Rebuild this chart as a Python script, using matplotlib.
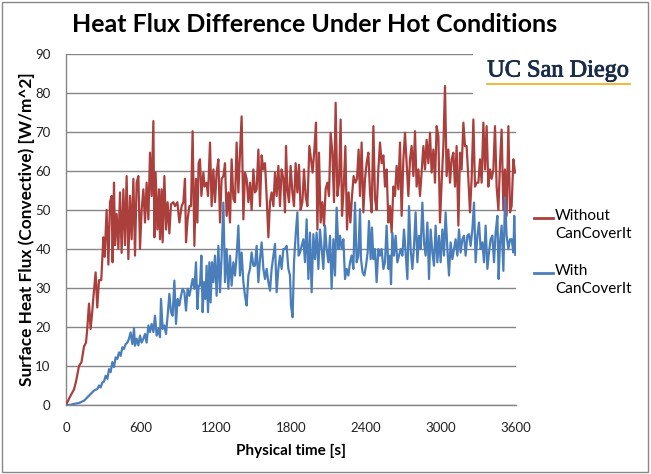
#!/usr/bin/env python3
"""
Heat flux difference under hot conditions - recreation
"""
import matplotlib
matplotlib.use("Agg")
import matplotlib.pyplot as plt
import matplotlib.patheffects as pe
from matplotlib.patches import Rectangle
from matplotlib.lines import Line2D

# (time [s], heat flux [W/m^2])
without_pts = [
    (0, 0), (30, 2), (64, 4), (80, 6), (104, 10), (124, 11), (144, 15), (160, 16), (170, 19.5),
    (184, 26), (197, 19.5), (210, 24), (219, 27.6), (237, 34), (250, 25), (264, 32), (282, 32),
    (299, 43), (309, 38), (325, 50), (339, 36), (352, 52), (365, 53.6), (373, 36.6), (384, 57),
    (392, 41), (405, 49), (419, 40), (432, 54.5), (445, 39), (459, 55.3), (472, 41), (485, 58.7),
    (499, 37.4), (512, 53.6), (525, 42.5), (539, 58), (552, 38.3), (565, 57), (579, 58.7),
    (592, 40), (605, 50), (619, 55.3), (632, 46.8), (645, 57), (659, 47.6), (672, 64.7),
    (685, 53.6), (699, 72.8), (707, 43), (717, 59.6), (731, 45), (744, 55.3), (752, 42.5),
    (765, 55.3), (773, 41.7), (787, 58.7), (800, 45), (813, 52), (827, 44), (840, 51.5),
    (859, 52), (872, 51), (891, 52), (907, 46.8), (925, 51), (939, 52), (952, 58), (960, 41.7),
    (973, 47.6), (987, 51), (1000, 51), (1013, 70.2), (1027, 40.8), (1040, 58), (1051, 46.8),
    (1061, 62), (1072, 63), (1083, 53.6), (1099, 59.6), (1109, 56), (1125, 57), (1136, 53.6),
    (1152, 67.3), (1165, 51), (1179, 60.4), (1192, 52), (1205, 59.6), (1219, 63), (1232, 46.8),
    (1245, 58), (1259, 58.7), (1272, 62), (1285, 48.5), (1299, 54.5), (1312, 46.8), (1325, 63),
    (1339, 52.8), (1352, 52), (1365, 67.3), (1379, 54.5), (1392, 64.7), (1405, 74), (1419, 47.6),
    (1432, 59.6), (1445, 58), (1459, 52), (1472, 57), (1485, 50), (1499, 60.4), (1512, 54.5),
    (1525, 55.3), (1539, 65.5), (1552, 51), (1565, 64), (1579, 60.4), (1592, 62), (1605, 53.6),
    (1619, 43), (1632, 52), (1645, 54.5), (1659, 51), (1672, 59.6), (1685, 53.6), (1699, 61.3),
    (1712, 51), (1725, 60.4), (1739, 58), (1752, 49.4), (1760, 66.4), (1771, 55.3), (1784, 52),
    (1797, 61.3), (1811, 54.5), (1824, 51), (1837, 62), (1851, 54.5), (1864, 61.6), (1877, 50),
    (1891, 52), (1904, 60.4), (1917, 53.6), (1931, 51), (1947, 66.4), (1960, 63), (1973, 59.6),
    (1987, 65.5), (2000, 72.4), (2011, 45), (2024, 64.7), (2037, 46.8), (2051, 52), (2064, 46),
    (2077, 55.3), (2091, 57), (2104, 53.6), (2117, 69.8), (2131, 64.7), (2144, 52), (2157, 77.5),
    (2171, 53.6), (2184, 57), (2197, 73.2), (2208, 48.5), (2221, 55.3), (2235, 66.4), (2248, 45),
    (2261, 54.5), (2275, 46.8), (2288, 53.6), (2301, 58.7), (2315, 57), (2328, 58), (2341, 65.5),
    (2352, 53.6), (2365, 67.3), (2379, 49.4), (2392, 58), (2405, 62), (2419, 64.7), (2432, 54.5),
    (2445, 49.4), (2459, 71.5), (2472, 52.8), (2485, 50), (2499, 60.4), (2512, 67.3), (2525, 62),
    (2539, 64), (2552, 56), (2565, 60.4), (2579, 46.8), (2592, 51), (2605, 44.2), (2619, 56),
    (2632, 53.6), (2645, 61.3), (2659, 55.3), (2672, 67.3), (2685, 48.5), (2699, 63), (2712, 69.8),
    (2725, 62), (2739, 53.6), (2752, 63), (2765, 66.4), (2779, 58.7), (2792, 70.2), (2805, 56),
    (2819, 60.4), (2832, 53.6), (2845, 59.6), (2859, 66.4), (2872, 60.4), (2885, 68), (2899, 62),
    (2912, 69.8), (2925, 59.6), (2939, 65.5), (2952, 57), (2965, 71.5), (2979, 69), (2992, 46.8),
    (3005, 57), (3019, 66.4), (3032, 81.8), (3045, 58.7), (3059, 65.5), (3072, 57), (3085, 63),
    (3099, 64.7), (3112, 56), (3125, 66.4), (3139, 46), (3152, 64.7), (3165, 60.4), (3179, 72.4),
    (3192, 66.4), (3205, 66.4), (3219, 58), (3232, 49.4), (3245, 58), (3259, 73.2), (3272, 56),
    (3285, 57), (3299, 57), (3312, 63), (3325, 57), (3339, 72.4), (3352, 60.4), (3365, 71.5),
    (3379, 56), (3392, 60.4), (3405, 58), (3419, 60.4), (3432, 71.5), (3445, 56), (3459, 50),
    (3472, 62), (3485, 70.6), (3499, 50), (3512, 60.4), (3525, 48.5), (3539, 71.5), (3552, 49.4),
    (3565, 51), (3579, 63), (3592, 59.6),
]

with_pts = [
    (0, 0), (30, 0), (64, 0.3), (104, 0.5), (144, 1.1), (184, 2.4), (224, 3.7), (251, 4.1),
    (264, 5), (277, 4.5), (291, 5.8), (304, 6), (317, 7.5), (331, 6.7), (344, 9.2), (357, 8.4),
    (371, 11), (384, 9.7), (397, 12.2), (411, 11.8), (424, 13.5), (437, 12.6), (451, 14.8),
    (464, 14.4), (477, 15.6), (491, 16), (504, 17), (517, 18.6), (531, 15.6), (544, 19.7),
    (552, 15.2), (565, 17), (579, 15.3), (592, 17.8), (605, 16), (619, 17), (632, 18.2), (645, 16),
    (659, 20.4), (672, 18.7), (685, 20.8), (699, 18.7), (712, 22.9), (725, 17.8), (739, 19.5),
    (752, 17.4), (760, 27.2), (773, 19.5), (787, 20.4), (800, 18.2), (813, 22.9), (827, 28.5),
    (840, 23.8), (853, 22.9), (867, 31.9), (880, 20.8), (893, 27.2), (907, 25.5), (920, 28),
    (933, 29.8), (947, 28.9), (960, 24.2), (973, 29.8), (987, 28), (1000, 30.2), (1013, 32.3),
    (1027, 29.8), (1040, 36.6), (1051, 24.6), (1061, 30.6), (1072, 30.6), (1083, 38.3),
    (1093, 23.8), (1104, 31.5), (1115, 27.2), (1125, 35.7), (1136, 23.8), (1147, 36.6),
    (1157, 26.3), (1168, 36.6), (1179, 31.5), (1192, 38.3), (1205, 28), (1219, 40.8),
    (1232, 28.9), (1245, 38.3), (1259, 51.9), (1272, 31.5), (1285, 40), (1299, 29.8),
    (1312, 38.3), (1325, 30.6), (1339, 36.6), (1352, 33.2), (1365, 38.3), (1379, 46),
    (1392, 33.2), (1405, 39.1), (1419, 31.5), (1432, 28), (1445, 25.5), (1459, 33.2),
    (1472, 34.9), (1485, 39.1), (1499, 35.7), (1512, 35.7), (1525, 40.8), (1539, 31.5),
    (1552, 37.4), (1565, 41.7), (1579, 34.9), (1592, 32.3), (1605, 34.9), (1619, 31.5),
    (1632, 29.3), (1645, 34.9), (1659, 38.3), (1672, 41.3), (1685, 28.9), (1699, 34.9),
    (1712, 38.3), (1725, 34.9), (1739, 40), (1752, 40), (1765, 40.8), (1779, 34.9), (1792, 33.2),
    (1800, 25.5), (1813, 22.5), (1824, 36.6), (1837, 43.4), (1851, 49.4), (1861, 38.3),
    (1872, 39.1), (1885, 40.8), (1899, 42.5), (1912, 36.6), (1925, 47.6), (1939, 32.3),
    (1952, 44.2), (1965, 28.9), (1979, 43.8), (1992, 37.4), (2005, 44.2), (2019, 34.9),
    (2032, 45), (2045, 40), (2059, 34.9), (2072, 46), (2085, 40), (2099, 36.6), (2112, 43.4),
    (2125, 29.8), (2139, 42.5), (2152, 33.2), (2165, 50.6), (2179, 40), (2192, 43.4), (2205, 40),
    (2219, 42.5), (2232, 32.3), (2245, 34.9), (2259, 33.2), (2272, 36.6), (2285, 38.3),
    (2299, 34.9), (2312, 51.9), (2325, 36.6), (2339, 38.3), (2352, 50.2), (2360, 37.4),
    (2373, 34), (2387, 33.2), (2400, 35.7), (2413, 39.1), (2424, 47.2), (2437, 37.4),
    (2448, 45.5), (2459, 37.4), (2472, 40), (2485, 31.5), (2499, 40), (2512, 38.3), (2525, 40),
    (2539, 34.9), (2552, 36.6), (2565, 46), (2579, 34.9), (2592, 38.3), (2600, 31), (2611, 44.2),
    (2624, 38.3), (2637, 43.4), (2651, 36.6), (2664, 38.3), (2677, 40), (2691, 38.3), (2704, 45),
    (2717, 39.1), (2731, 32.3), (2744, 51), (2757, 40), (2771, 34.9), (2784, 40.8), (2797, 49.4),
    (2811, 36.6), (2824, 43.4), (2837, 40), (2851, 51.9), (2864, 41.7), (2877, 38.3),
    (2891, 46.8), (2904, 32.3), (2917, 45), (2931, 39.1), (2944, 35.7), (2957, 46), (2971, 36.6),
    (2984, 43.4), (2997, 36.6), (3011, 45), (3024, 38.3), (3037, 49.4), (3051, 40), (3064, 33.2),
    (3077, 41.7), (3091, 37.4), (3104, 40), (3117, 42.5), (3131, 38.3), (3144, 45), (3157, 39.1),
    (3171, 42.5), (3184, 43.4), (3197, 38.3), (3211, 43.4), (3224, 43.8), (3237, 40.8),
    (3251, 45), (3264, 51.9), (3277, 36.6), (3291, 43.4), (3304, 46.8), (3317, 40), (3331, 41.7),
    (3344, 36.6), (3357, 46), (3371, 34.9), (3384, 39.1), (3397, 42.5), (3411, 43.4),
    (3424, 36.6), (3437, 44.2), (3451, 48.5), (3461, 32.3), (3472, 41.7), (3485, 46),
    (3499, 34.4), (3512, 53.2), (3525, 43.4), (3539, 40), (3552, 42.5), (3565, 42.5),
    (3579, 39.1), (3586, 48.5), (3595, 38.5),
]

x_ticks = [0, 600, 1200, 1800, 2400, 3000, 3600]
y_ticks = [0, 10, 20, 30, 40, 50, 60, 70, 80, 90]
series_labels = ["Without\nCanCoverIt", "With\nCanCoverIt"]

RED = "#AA3F3C"
BLUE = "#4A7EBB"
GRID = "#868686"
NAVY = "#182B49"
FONT = ["Lato", "DejaVu Sans"]

W, H = 651, 474
fig = plt.figure(figsize=(W / 100, H / 100), dpi=100)
fig.patch.set_facecolor("white")

ax = fig.add_axes([66 / W, 1 - 405 / H, 450 / W, 351 / H])

t1, q1 = zip(*without_pts)
t2, q2 = zip(*with_pts)
ax.plot(t1, q1, color=RED, lw=1.6, zorder=3)
ax.plot(t2, q2, color=BLUE, lw=1.6, zorder=3)

ax.set_xlim(0, 3600)
ax.set_ylim(0, 90)
ax.set_xticks(x_ticks)
ax.set_yticks(y_ticks)
ax.tick_params(length=0, labelsize=9.5, colors="#222222")
ax.tick_params(axis="x", pad=12)
ax.tick_params(axis="y", pad=11)
for lab in ax.get_xticklabels() + ax.get_yticklabels():
    lab.set_family(FONT)
ax.grid(axis="y", color=GRID, lw=1)
ax.set_axisbelow(True)
for s in ["top", "right"]:
    ax.spines[s].set_visible(False)
for s in ["left", "bottom"]:
    ax.spines[s].set_color(GRID)
    ax.spines[s].set_linewidth(1)

ax.set_xlabel("Physical time [s]", fontsize=11, fontweight="bold", family=FONT, labelpad=7)
ax.set_ylabel("Surface Heat Flux (Convective) [W/m^2]", fontsize=12.4, fontweight="bold",
              family=FONT, labelpad=0)

# legend, drawn by hand so the handle sits on the first text line
for lab, col, y_px in zip(series_labels, [RED, BLUE], [218, 273]):
    fig.lines.append(Line2D([534 / W, 553 / W], [1 - y_px / H] * 2,
                            transform=fig.transFigure, color=col, lw=2))
    fig.text(555 / W, 1 - (y_px - 9) / H, lab, ha="left", va="top", fontsize=11,
             family=FONT, linespacing=1.4)

fig.text(315 / W, 1 - 25 / H, "Heat Flux Difference Under Hot Conditions",
         ha="center", va="center", fontsize=18, fontweight="bold", family=FONT)

# logo block (white box hides the grid under it)
fig.patches.append(Rectangle((473 / W, 1 - 100 / H), 170 / W, 52 / H,
                             transform=fig.transFigure, facecolor="white",
                             edgecolor="none", zorder=5))
logo = fig.text(558 / W, 1 - 71 / H, "UC San Diego", ha="center", va="center",
                fontsize=17.5, family="Liberation Serif", color=NAVY, zorder=6)
logo.set_path_effects([pe.withStroke(linewidth=0.6, foreground=NAVY)])
fig.lines.append(Line2D([487 / W, 630 / W], [1 - 84 / H, 1 - 84 / H],
                        transform=fig.transFigure, color="#F0B323", lw=1.3, zorder=6))

# outer frame
fig.patches.append(Rectangle((2 / W, 2 / H), 646 / W, 470 / H, transform=fig.transFigure,
                             facecolor="none", edgecolor="#888888", lw=1))

fig.savefig("out.png", dpi=100)
